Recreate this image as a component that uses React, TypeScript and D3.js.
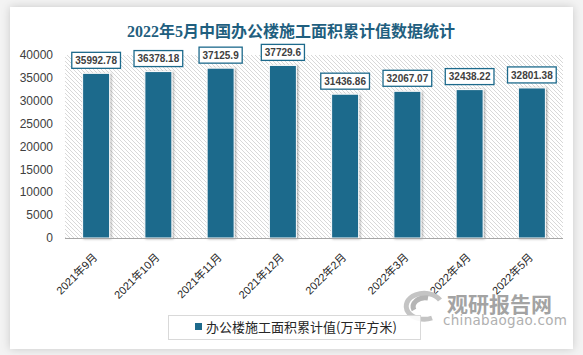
import React from "react";
import * as d3 from "d3";

const categories = ["2021年9月", "2021年10月", "2021年11月", "2021年12月", "2022年2月", "2022年3月", "2022年4月", "2022年5月"];
const values = [35992.78, 36378.18, 37125.9, 37729.6, 31436.86, 32067.07, 32438.22, 32801.38];
const yTicks = [0, 5000, 10000, 15000, 20000, 25000, 30000, 35000, 40000];
const title = "2022年5月中国办公楼施工面积累计值数据统计";
const seriesName = "办公楼施工面积累计值(万平方米)";

const W = 583, H = 355;
const BAR = "#1d6a8c";
const TXT = "#404040";
const FONT = "'Liberation Sans', Arial, 'Noto Sans CJK SC', sans-serif";

export default function App() {
  const x = d3.scaleBand<string>().domain(categories).range([65, 563]).paddingInner(0.566).paddingOuter(0.283);
  const y = d3.scaleLinear().domain([0, 40000]).range([238, 55]);
  const textW = (s: string) => {
    let w = 0;
    for (const c of s) w += c === "." ? 2.78 : 5.56;
    return w;
  };
  return (
    <svg width={W} height={H} style={{ position: "absolute", left: 0, top: 0 }} fontFamily={FONT}>
      <defs>
        <pattern id="hatch" width="4" height="4" patternUnits="userSpaceOnUse">
          <rect width="4" height="4" fill="#ffffff" />
          <path d="M-1,-1 L5,5 M-1,3 L1,5 M3,-1 L5,1" stroke="#d4d4d4" strokeWidth="0.9" />
        </pattern>
        <filter id="card" x="-5%" y="-5%" width="110%" height="110%">
          <feDropShadow dx="0" dy="0" stdDeviation="4" floodColor="#000" floodOpacity="0.18" />
        </filter>
        <filter id="barsh" x="-20%" y="-5%" width="140%" height="110%">
          <feDropShadow dx="1.2" dy="0.5" stdDeviation="0.8" floodColor="#000" floodOpacity="0.35" />
        </filter>
      </defs>
      <rect width={W} height={H} fill="#f3f3f3" />
      <rect x={10} y={7} width={563} height={342} fill="#ffffff" filter="url(#card)" />
      <text x={291} y={37} textAnchor="middle" fontSize={16} fontWeight="bold" fill="#1f5f7f"
        fontFamily="'Liberation Serif', 'Noto Sans CJK SC', serif">{title}</text>
      <rect x={65} y={y(40000)} width={498} height={y(0) - y(40000)} fill="url(#hatch)" />
      {yTicks.map((t) => (
        <text key={t} x={53} y={y(t)} dy="0.35em" textAnchor="end" fontSize={12} fill={TXT}>{t}</text>
      ))}
      {categories.map((c, i) => (
        <rect key={c} x={x(c)} y={y(values[i])} width={x.bandwidth()} height={y(0) - y(values[i])}
          fill={BAR} stroke="#ffffff" strokeWidth={1} filter="url(#barsh)" />
      ))}
      <line x1={65} x2={563} y1={238.5} y2={238.5} stroke="#a6a6a6" strokeWidth={1} />
      {categories.map((c, i) => {
        const cx = (x(c) as number) + x.bandwidth() / 2;
        const label = String(values[i]);
        const bw = textW(label) + 7;
        const top = y(values[i]) - 5 - 16;
        return (
          <g key={"l" + c}>
            <rect x={cx - bw / 2} y={top} width={bw} height={16} fill="#ffffff" stroke={BAR} strokeWidth={1.3} />
            <text x={cx} y={top + 8} dy="0.36em" textAnchor="middle" fontSize={10} fontWeight="bold" fill={TXT}>{label}</text>
          </g>
        );
      })}
      {categories.map((c) => {
        const cx = (x(c) as number) + x.bandwidth() / 2;
        return (
          <text key={"x" + c} transform={`translate(${cx + 2},258) rotate(-45)`} textAnchor="end" fontSize={11} fill="#262626">{c}</text>
        );
      })}
      <g>
        <text x={447} y={312} fontSize={21} fontWeight="bold" fill="#a3a3a3" fontFamily="'Noto Sans CJK SC', sans-serif">观研报告网</text>
        <text x={443} y={325} fontSize={13.5} fill="#b0b0b0" fontFamily="'DejaVu Sans', sans-serif" letterSpacing="0.3">chinabaogao.com</text>
        <path d="M440,300 A18,13 0 1,0 432,318" fill="none" stroke="#c4c4c4" strokeWidth={5} />
        <path d="M428,298 A12,9 0 0,0 414,310" fill="none" stroke="#b5b5b5" strokeWidth={5} />
      </g>
      <rect x={168.5} y={315.5} width={252} height={24} fill="#ffffff" fillOpacity={0.9} stroke="#d9d9d9" strokeWidth={1} />
      <rect x={195} y={323} width={7} height={7} fill={BAR} />
      <text x={206} y={332} fontSize={13} fill="#262626" fontFamily="'Noto Sans CJK SC', sans-serif">{seriesName}</text>
    </svg>
  );
}
